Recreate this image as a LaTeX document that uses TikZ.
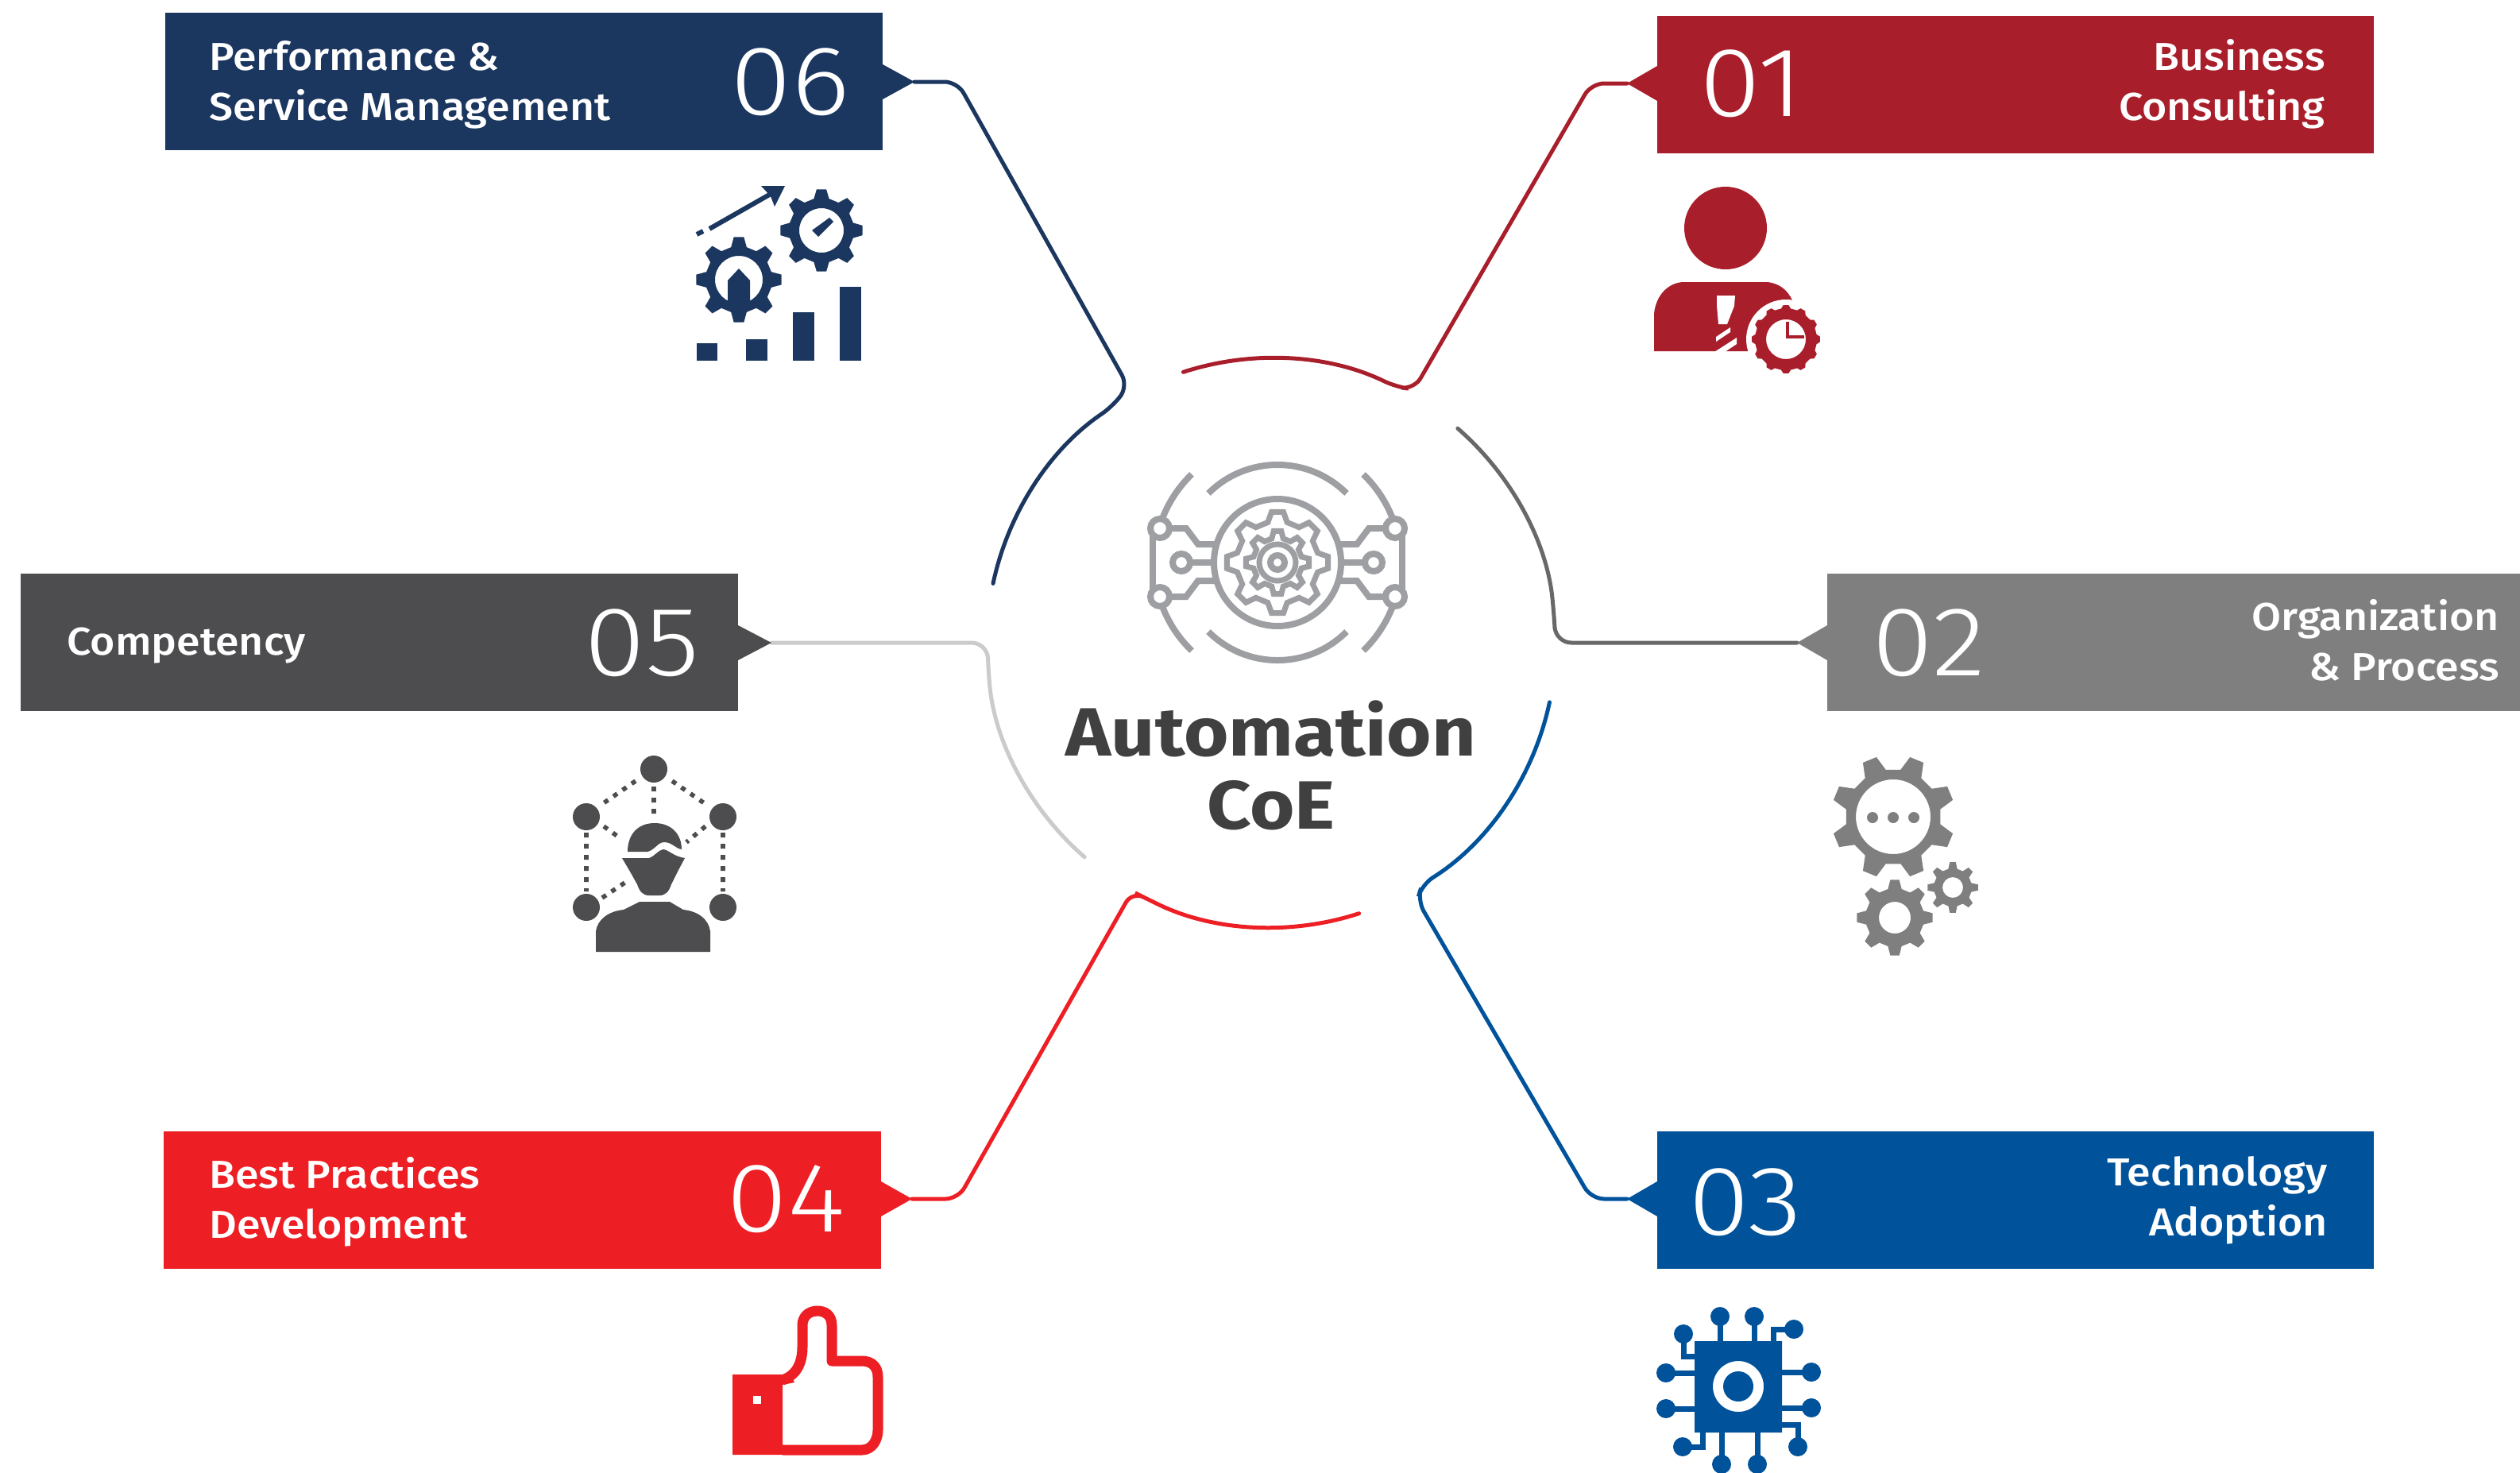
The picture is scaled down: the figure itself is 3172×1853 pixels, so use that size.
\documentclass[tikz,border=0pt]{standalone}
\usepackage{fontspec}
\setmainfont{Fira Sans}
\newfontfamily\lblfont{Fira Sans Medium}[FakeStretch=1.095]
\newfontfamily\numfont{Fira Sans Light}[FakeStretch=1.13]
\newfontfamily\ttlfont{Fira Sans Bold}[FakeStretch=1.125]
\definecolor{c01}{HTML}{A91E2B}
\definecolor{c02}{HTML}{7F7F80}
\definecolor{c03}{HTML}{00529B}
\definecolor{c04}{HTML}{ED1F24}
\definecolor{c05}{HTML}{4D4D4F}
\definecolor{c06}{HTML}{1B365F}
\definecolor{cgear}{HTML}{9D9FA2}
\definecolor{cttl}{HTML}{404041}
\definecolor{clight}{HTML}{CBCBCB}
\def\gearpath#1#2#3#4#5#6{%
 ([shift={(#1,#2)}]#6-0.30*360/#5:#4)
 \foreach \k [evaluate=\k as \ga using #6+(\k-1)*360/#5] in {1,...,#5} {
   -- ([shift={(#1,#2)}]\ga-0.30*360/#5:#4)
   -- ([shift={(#1,#2)}]\ga-0.15*360/#5:#3)
   -- ([shift={(#1,#2)}]\ga+0.15*360/#5:#3)
   -- ([shift={(#1,#2)}]\ga+0.30*360/#5:#4)
 } -- cycle }
\tikzset{
  x=0.5pt,y=-0.5pt,
  boxst/.style={inner sep=0pt,outer sep=0pt,minimum height=86.5pt},
  lblL/.style={anchor=west,align=left,text=white,inner sep=0pt,font=\lblfont\fontsize{24.5}{31.5}\selectfont},
  lblR/.style={anchor=east,align=right,text=white,inner sep=0pt,font=\lblfont\fontsize{24.5}{31.5}\selectfont},
  numst/.style={text=white,inner sep=0pt,font=\numfont\fontsize{62}{62}\selectfont},
  conn/.style={line width=2.5pt,rounded corners=8pt,line cap=round},
  ttl/.style={text=cttl,inner sep=0pt,font=\ttlfont\fontsize{43}{43}\selectfont},
}
\begin{document}
\begin{tikzpicture}
\useasboundingbox (0,0) rectangle (3172,1853);
\fill[white] (0,0) rectangle (3172,1853);

% centre
\coordinate (cc) at (1600,809);

% pointer tips
\coordinate (t06) at (1151,103);
\coordinate (t01) at (2048,105);
\coordinate (t05) at (971,809);
\coordinate (t02) at (2262,809);
\coordinate (t04) at (1148,1509);
\coordinate (t03) at (2048,1509);

% connectors
\draw[conn,c06] (t06) -- (1205,103) -- (1420,486) -- (1400,512) arc[start angle=236,end angle=192,radius=358];
\draw[conn,c01] (t01) -- (2003,105) -- (1780,490) -- (1757,487) arc[start angle=296,end angle=252,radius=358];
\draw[conn,c05!85!white,rounded corners=10pt] (t02) -- (1958,809) -- (1956,772) arc[start angle=-6,end angle=-49,radius=358];
\draw[conn,c03] (t03) -- (2003,1509) -- (1784,1133) -- (1790,1113) arc[start angle=58,end angle=12,radius=358];
\draw[conn,c04] (t04) -- (1206,1509) -- (1425,1122) -- (1443,1131) arc[start angle=116,end angle=72,radius=358];
\draw[conn,clight,rounded corners=10pt] (t05) -- (1243,809) -- (1244,846) arc[start angle=174,end angle=131,radius=358];

% boxes
\node[boxst,fill=c06,minimum width=451.5pt] (box06) at (659.5,102) {};
\node[boxst,fill=c01,minimum width=451pt] (box01) at (2537,106) {};
\node[boxst,fill=c05,minimum width=451.5pt] (box05) at (477.5,808.5) {};
\node[boxst,fill=c02,minimum width=436pt] (box02) at (2736,808.5) {};
\node[boxst,fill=c04,minimum width=451.5pt] (box04) at (657.5,1510.5) {};
\node[boxst,fill=c03,minimum width=451pt] (box03) at (2537,1510.5) {};

% pointers
\fill[c06] (1111,81) -- (t06) -- (1111,125) -- cycle;
\fill[c01] (2086,83) -- (t01) -- (2086,127) -- cycle;
\fill[c05] (929,787) -- (t05) -- (929,831) -- cycle;
\fill[c02] (2300,787) -- (t02) -- (2300,831) -- cycle;
\fill[c04] (1109,1487) -- (t04) -- (1109,1531) -- cycle;
\fill[c03] (2086,1487) -- (t03) -- (2086,1531) -- cycle;

% box labels
\node[lblL] (l06) at (263,107) {Performance \&\\Service Management};
\node[numst] (n06) at (995,103) {06};
\node[lblR] (l01) at (2927,106) {Business\\Consulting};
\node[numst] (n01) at (2205,105) {01};
\node[lblL] (l05) at (84,813) {Competency};
\node[numst] (n05) at (808,809) {05};
\node[lblR] (l02) at (3146,806) {Organization\\\& Process};
\node[numst] (n02) at (2428,809) {02};
\node[lblL] (l04) at (263,1513) {Best Practices\\Development};
\node[numst] (n04) at (989,1509) {04};
\node[lblR] (l03) at (2930,1511) {Technology\\Adoption};
\node[numst] (n03) at (2197,1513) {03};

% title
\node[ttl] (ttl1) at (1600,917) {Automation};
\node[ttl] (ttl2) at (1600,1014) {CoE};

% centre gear icon
\begin{scope}[shift={(1608,708)},cgear,line width=4pt]
  \draw (-87,-87) arc[start angle=225,end angle=315,radius=123];
  \draw (-87,87) arc[start angle=135,end angle=45,radius=123];
  \draw[line width=4pt] (0,0) circle[radius=80];
  \draw[line width=3.5pt] \gearpath{0}{0}{64}{52}{8}{90};
  \draw[line width=3.5pt] \gearpath{0}{0}{40}{31}{8}{90};
  \draw[line width=3.5pt] (0,0) circle[radius=23];
  \draw[line width=4pt] (0,0) circle[radius=9];
  \foreach \s in {1,-1}{
  \begin{scope}[xscale=\s]
    \draw (-108,-111) arc[start angle=226,end angle=196,radius=155];
    \draw (-108,111) arc[start angle=134,end angle=164,radius=155];
    \draw (-157,-43) -- (-157,43);
    \draw (-147,-43) -- (-115,-43) -- (-100,-23) -- (-78,-23);
    \draw (-147,43) -- (-115,43) -- (-100,23) -- (-78,23);
    \draw (-107,0) -- (-78,0);
    \draw[fill=white] (-148,-43) circle[radius=12];
    \draw[fill=white] (-148,43) circle[radius=12];
    \draw[fill=white] (-121,0) circle[radius=11];
  \end{scope}}
\end{scope}

% icon 06
\fill[c06,even odd rule] \gearpath{930}{352}{54}{42}{8}{90} (930,352) circle[radius=30];
\fill[c06] (930,338) -- (944,353) -- (944,385) -- (916,385) -- (916,353) -- cycle;
\fill[c06,even odd rule] \gearpath{1034}{290}{52}{41}{8}{90} (1034,290) circle[radius=28];
\fill[c06] (1022,290) -- (1030,298) -- (1049,279) -- (1044,274) -- cycle;
\draw[c06,line width=3pt] (893,288) -- (972,243);
\draw[c06,line width=3pt] (877,295) -- (885,291);
\fill[c06] (958,234) -- (988,234) -- (975,260) -- (970,247) -- cycle;
\fill[c06] (877,432) rectangle (903,454);
\fill[c06] (939,427) rectangle (966,454);
\fill[c06] (998,393) rectangle (1025,454);
\fill[c06] (1057,361) rectangle (1084,454);

% icon 01
\fill[c01] (2172,287) circle[radius=52];
\fill[c01] (2082,442) -- (2082,395) .. controls (2084,372) and (2100,355) .. (2120,355) -- (2225,355) .. controls (2240,357) and (2250,365) .. (2256,378) -- (2220,442) -- cycle;
\fill[white] (2248,427) circle[radius=50];
\fill[white] (2203,442) rectangle (2215,460);
\fill[c01,even odd rule] \gearpath{2248}{427}{43}{39}{12}{0} (2248,427) circle[radius=25];
\fill[c01] (2248,405) rectangle (2252,425);
\fill[c01] (2248,422) rectangle (2271,426);
\fill[white] (2161,372) -- (2184,372) -- (2183,385) -- (2174,408) -- (2163,408) -- (2161,385) -- cycle;
\fill[white] (2160,424) -- (2178,412) -- (2178,418) -- (2160,430) -- cycle;
\fill[white] (2158,443) -- (2186,425) -- (2186,433) -- (2168,445) -- (2158,445) -- cycle;

% icon 02
\fill[c02,even odd rule] \gearpath{2383}{1028}{78}{60}{8}{22.5} (2383,1028) circle[radius=47];
\foreach \x in {2357,2383,2409} \fill[c02] (\x,1029) circle[radius=7];
\fill[c02,even odd rule] \gearpath{2385}{1155}{48}{37}{8}{90} (2385,1155) circle[radius=20];
\fill[c02,even odd rule] \gearpath{2458}{1117}{32}{24}{8}{90} (2458,1117) circle[radius=13];

% icon 05
\foreach \a/\b in {823/968,738/1028,910/1028,738/1142,910/1142}
  \fill[c05] (\a,\b) circle[radius=17];
\draw[c05,line width=2.8pt,dash pattern=on 3pt off 4pt]
  (738,1048) -- (738,1122)
  (910,1048) -- (910,1122)
  (823,990) -- (823,1030)
  (800,983) -- (758,1012)
  (846,983) -- (888,1012)
  (760,1040) -- (782,1056)
  (888,1040) -- (864,1060)
  (758,1130) -- (788,1110);
\fill[c05] (790,1072) .. controls (790,1050) and (803,1036) .. (824,1036) .. controls (845,1036) and (858,1050) .. (858,1069) .. controls (850,1068) and (846,1060) .. (836,1060) .. controls (828,1060) and (824,1070) .. (815,1072) -- cycle;
\fill[c05] (783,1080) -- (817,1080) .. controls (824,1078) and (828,1070) .. (835,1069) .. controls (842,1070) and (848,1078) .. (862,1080) -- (853,1097) -- (845,1113) .. controls (842,1122) and (838,1127) .. (830,1127) -- (817,1127) .. controls (809,1127) and (805,1122) .. (802,1113) -- (793,1097) -- cycle;
\fill[c05] (750,1198) -- (750,1172) .. controls (752,1158) and (765,1147) .. (785,1145) -- (805,1135) -- (843,1135) -- (860,1145) .. controls (880,1147) and (892,1158) .. (894,1172) -- (894,1198) -- cycle;

% icon 04
\fill[c04] (922,1730) -- (995,1730) -- (1000,1740) -- (985,1743) -- (985,1831) -- (922,1831) -- cycle;
\fill[white] (948,1757) rectangle (958,1767);
\draw[c04,line width=6.5pt,line join=round]
  (985,1825) -- (1085,1825) .. controls (1098,1825) and (1105,1812) .. (1105,1800)
  -- (1105,1733) .. controls (1105,1720) and (1097,1713) .. (1085,1713)
  -- (1047,1713) -- (1047,1668) .. controls (1047,1655) and (1038,1650) .. (1029,1650)
  .. controls (1018,1650) and (1010,1657) .. (1010,1668) -- (1010,1695)
  .. controls (1010,1712) and (1005,1730) .. (985,1737);

% icon 03
\begin{scope}[c03]
  \foreach \a/\b in {2165/1657,2208/1657,2119/1679,2258/1673,2097/1728,2097/1773,2280/1727,2280/1772,2118/1821,2167/1843,2212/1843,2263/1821}
    \fill (\a,\b) circle[radius=12];
  \draw[line width=3.5pt]
    (2165,1657) -- (2165,1690) (2208,1657) -- (2208,1690)
    (2119,1679) -- (2119,1707) -- (2135,1707)
    (2258,1673) -- (2232,1673) -- (2232,1690)
    (2097,1728) -- (2135,1728) (2097,1773) -- (2135,1773)
    (2280,1727) -- (2240,1727) (2280,1772) -- (2240,1772)
    (2118,1821) -- (2143,1821) -- (2143,1800)
    (2167,1843) -- (2167,1800) (2212,1843) -- (2212,1800)
    (2263,1821) -- (2263,1793) -- (2240,1793);
  \fill[even odd rule] (2133,1688) rectangle (2243,1803) (2188,1745) circle[radius=32];
  \fill (2188,1745) circle[radius=19];
\end{scope}
\end{tikzpicture}
\end{document}
